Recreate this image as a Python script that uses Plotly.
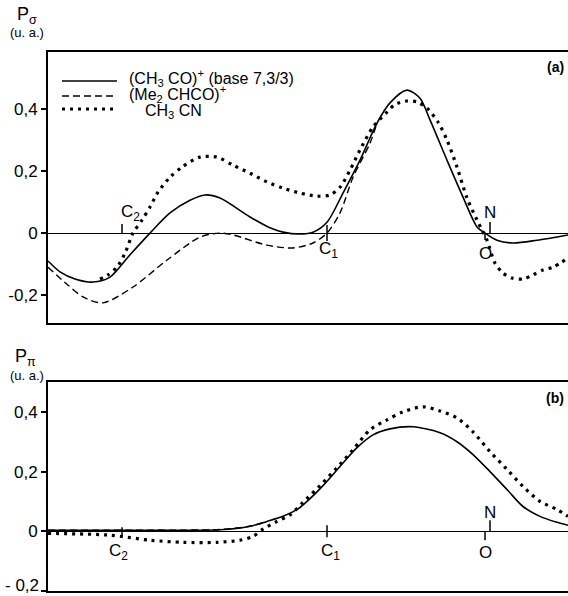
import plotly.graph_objects as go

# ---------------- data (distance along the molecular axis, arbitrary units) ----------------
# Panel (a): P_sigma
a_solid_x = [0, 12, 27, 45, 62, 82, 102, 122, 142, 157, 172, 202, 222, 235, 252, 265, 279, 295,
             312, 329, 342, 359, 372, 382, 399, 415, 429, 437, 449, 465, 489, 520]
a_solid_y = [-0.09, -0.125, -0.148, -0.158, -0.142, -0.07, 0.0, 0.065, 0.106, 0.123, 0.113, 0.052,
             0.017, 0.003, -0.003, 0.003, 0.035, 0.129, 0.235, 0.355, 0.42, 0.461, 0.435, 0.365,
             0.235, 0.116, 0.02, 0.0, -0.023, -0.032, -0.023, -0.006]

a_dash_x = [0, 19, 35, 55, 85, 119, 152, 172, 185, 219, 245, 265, 279, 292, 305, 322, 329]
a_dash_y = [-0.11, -0.165, -0.206, -0.225, -0.174, -0.087, -0.013, 0.0, -0.006, -0.039, -0.048,
            -0.032, 0.0, 0.065, 0.18, 0.29, 0.355]

a_dot_x = [52, 60, 69, 77, 85, 94, 102, 110, 122, 134, 152, 169, 185, 202, 219, 235, 252, 269, 282,
           292, 302, 312, 325, 339, 347, 359, 369, 379, 390, 399, 409, 419, 429, 434, 439, 447, 455,
           464, 475, 485, 495, 505, 520]
a_dot_y = [-0.148, -0.135, -0.11, -0.065, 0.0, 0.042, 0.084, 0.132, 0.18, 0.213, 0.245, 0.245, 0.219,
           0.193, 0.165, 0.145, 0.129, 0.119, 0.123, 0.148, 0.203, 0.268, 0.342, 0.39, 0.415, 0.426,
           0.423, 0.403, 0.358, 0.3, 0.213, 0.113, 0.042, 0.01, -0.023, -0.097, -0.129, -0.145,
           -0.148, -0.135, -0.119, -0.11, -0.081]

# Panel (b): P_pi
b_solid_x = [0, 102, 172, 202, 219, 235, 250, 259, 275, 292, 309, 325, 342, 365, 392, 409, 425, 442,
             459, 475, 492, 509, 520]
b_solid_y = [0.003, 0.003, 0.005, 0.017, 0.033, 0.05, 0.075, 0.1, 0.153, 0.217, 0.28, 0.323, 0.343,
             0.35, 0.33, 0.3, 0.257, 0.2, 0.14, 0.083, 0.05, 0.03, 0.02]

b_dash_x = [0, 102, 172, 202, 219]
b_dash_y = [0.004, 0.004, 0.006, 0.017, 0.033]

b_dot_x = [0, 62, 102, 135, 169, 192, 205, 215, 229, 242, 255, 272, 289, 305, 322, 339, 355, 375,
           392, 409, 425, 442, 459, 475, 492, 509, 520]
b_dot_y = [-0.007, -0.013, -0.03, -0.037, -0.037, -0.03, -0.017, 0.007, 0.033, 0.055, 0.097, 0.153,
           0.213, 0.273, 0.34, 0.373, 0.4, 0.417, 0.403, 0.38, 0.333, 0.267, 0.207, 0.15, 0.1,
           0.073, 0.05]

# atom positions along the axis
atom_names = ["C<sub>2</sub>", "C<sub>1</sub>", "O", "N"]
atom_pos = [74, 279, 437, 442]

y_tickvals = [-0.2, 0, 0.2, 0.4]
y_ticktext = ["-0,2", "0", "0,2", "0,4"]
y_ticktext_b = ["", "0", "0,2", "0,4"]   # the -0,2 label of (b) sits on the page edge
b_bottom_label = "- 0,2"

series_names = ["(CH<sub>3</sub> CO)<sup>+</sup> (base 7,3/3)",
                "(Me<sub>2</sub> CHCO)<sup>+</sup>",
                "CH<sub>3</sub> CN"]

# ---------------- figure ----------------
W, H = 568, 596
FONT = "Liberation Sans, Arial, Helvetica, sans-serif"
fig = go.Figure()

dash_style = "7px,4px"
dot_style = "3px,5px"

def add_series(x, y, xa, ya, kind):
    if kind == "solid":
        line = dict(color="black", width=1.6, shape="spline", smoothing=0.8)
    elif kind == "dash":
        line = dict(color="black", width=1.4, dash=dash_style, shape="spline", smoothing=0.8)
    else:
        line = dict(color="black", width=3.2, dash=dot_style, shape="spline", smoothing=0.8)
    fig.add_trace(go.Scatter(x=x, y=y, xaxis=xa, yaxis=ya, mode="lines", line=line,
                             showlegend=False, hoverinfo="skip"))

add_series(a_dash_x, a_dash_y, "x", "y", "dash")
add_series(a_solid_x, a_solid_y, "x", "y", "solid")
add_series(a_dot_x, a_dot_y, "x", "y", "dot")
add_series(b_dash_x, b_dash_y, "x2", "y2", "dash")
add_series(b_solid_x, b_solid_y, "x2", "y2", "solid")
add_series(b_dot_x, b_dot_y, "x2", "y2", "dot")

def py(p):
    return 1 - p / H

def px(p):
    return p / W

xdom = [px(48), 1.0]
axis_common = dict(showgrid=False, linecolor="black", linewidth=2, zeroline=False)
yaxis_common = dict(showline=True, mirror=False, tickvals=y_tickvals, ticks="outside", ticklen=5,
                    tickwidth=1.5, tickcolor="black", showgrid=False, linecolor="black", linewidth=2,
                    zeroline=True, zerolinecolor="black", zerolinewidth=1.3,
                    tickfont=dict(size=17, family=FONT))
fig.update_layout(
    width=W, height=H, margin=dict(l=0, r=0, t=0, b=0),
    paper_bgcolor="white", plot_bgcolor="white",
    font=dict(family=FONT, color="black", size=17),
    xaxis=dict(domain=xdom, range=[0, 520], showline=True, mirror=True, showticklabels=False,
               ticks="", anchor="y", **axis_common),
    yaxis=dict(domain=[py(323), py(52)], range=[-0.290, 0.584], ticktext=y_ticktext, anchor="x",
               **yaxis_common),
    xaxis2=dict(domain=xdom, range=[0, 520], showline=True, mirror=True, showticklabels=False,
                ticks="", anchor="y2", **axis_common),
    yaxis2=dict(domain=[py(591), py(382)], range=[-0.2, 0.5], ticktext=y_ticktext_b, anchor="x2",
                **yaxis_common),
)

shapes = []
annotations = []

# atom tick marks (lo, hi in px relative to zero line) and label offsets (dy up, dx)
a_tick = {"C<sub>2</sub>": (0, 9, 20, 8), "C<sub>1</sub>": (-8, 8, -17, 1),
          "N": (0, 11, 21, 0), "O": (-7, 0, -20, 0)}
b_tick = {"C<sub>2</sub>": (-5, 4, -21, -4), "C<sub>1</sub>": (-6, 6, -21, 3),
          "N": (0, 11, 19, 0), "O": (-9, 0, -21, 0)}
for ticks, xr, yr in ((a_tick, "x", "y"), (b_tick, "x2", "y2")):
    for name, pos in zip(atom_names, atom_pos):
        lo, hi, dy, dx = ticks[name]
        shapes.append(dict(type="line", xref=xr, yref=yr, x0=pos, x1=pos, ysizemode="pixel",
                           yanchor=0, y0=lo, y1=hi, line=dict(color="black", width=1.5)))
        annotations.append(dict(x=pos, y=0, xref=xr, yref=yr, text=name, showarrow=False,
                                xanchor="center", yanchor="middle", yshift=dy, xshift=dx,
                                font=dict(size=17, family=FONT)))

# axis titles and panel tags
annotations += [
    dict(x=px(27), y=py(15), xref="paper", yref="paper", text="P<sub>σ</sub>", showarrow=False,
         xanchor="center", yanchor="middle", font=dict(size=18, family=FONT)),
    dict(x=px(27), y=py(32), xref="paper", yref="paper", text="(u. a.)", showarrow=False,
         xanchor="center", yanchor="middle", font=dict(size=13, family=FONT)),
    dict(x=px(25), y=py(357), xref="paper", yref="paper", text="P<sub>π</sub>", showarrow=False,
         xanchor="center", yanchor="middle", font=dict(size=18, family=FONT)),
    dict(x=px(27), y=py(375), xref="paper", yref="paper", text="(u. a.)", showarrow=False,
         xanchor="center", yanchor="middle", font=dict(size=13, family=FONT)),
    dict(x=px(566), y=py(67), xref="paper", yref="paper", text="<b>(a)</b>", showarrow=False,
         xanchor="right", yanchor="middle", font=dict(size=14, family=FONT)),
    dict(x=px(566), y=py(398), xref="paper", yref="paper", text="<b>(b)</b>", showarrow=False,
         xanchor="right", yanchor="middle", font=dict(size=14, family=FONT)),
    dict(x=px(40), y=0, xref="paper", yref="paper", text=b_bottom_label, showarrow=False,
         xanchor="right", yanchor="bottom", borderpad=0, font=dict(size=17, family=FONT)),
]

# legend (drawn manually): (line y, text y, kind, text x)
leg_rows = [(81, 78, "solid", 127), (96, 94, "dash", 127), (109, 111, "dot", 143)]
for (ypix, tpix, kind, tx), name in zip(leg_rows, series_names):
    if kind == "solid":
        ln = dict(color="black", width=1.6)
    elif kind == "dash":
        ln = dict(color="black", width=1.4, dash=dash_style)
    else:
        ln = dict(color="black", width=3.2, dash=dot_style)
    shapes.append(dict(type="line", xref="paper", yref="paper", x0=px(62), x1=px(117),
                       y0=py(ypix), y1=py(ypix), line=ln))
    annotations.append(dict(x=px(tx), y=py(tpix), xref="paper", yref="paper", text=name,
                            showarrow=False, xanchor="left", yanchor="middle",
                            font=dict(size=16, family=FONT)))

fig.update_layout(shapes=shapes, annotations=annotations)
fig.write_html("out.html", config={"displayModeBar": False},
               post_script=("document.body.style.margin='0';"
                            "document.body.style.overflow='hidden';"))
